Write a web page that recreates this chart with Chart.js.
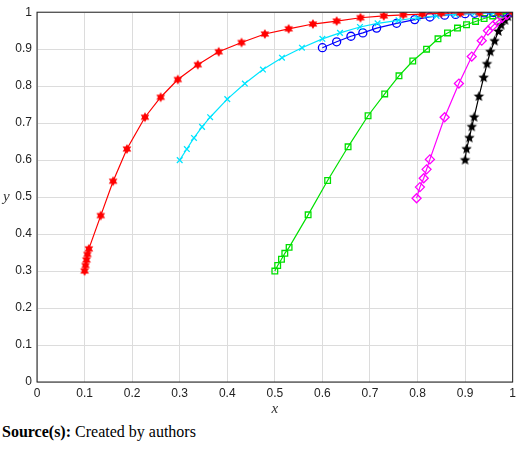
<!DOCTYPE html>
<html><head><meta charset="utf-8">
<script src="https://cdn.jsdelivr.net/npm/chart.js@4.4.0/dist/chart.umd.min.js"></script>
<style>
body { margin:0; background:#fff; }
#wrap { position:relative; width:520px; height:420px; }
#cap { font-family:"Liberation Serif", serif; font-size:16px; margin:3px 0 0 2px; }
</style></head><body>
<div id="wrap"><canvas id="c"></canvas></div>
<div id="cap"><b>Source(s):</b> Created by authors</div>
<script>
const redX = [0.1,0.102,0.104,0.106,0.109,0.134,0.16,0.189,0.227,0.26,0.296,0.338,0.382,0.43,0.479,0.529,0.58,0.63,0.68,0.729,0.77,0.81,0.85,0.89,0.93,0.97,1];
const redY = [0.3,0.315,0.33,0.345,0.36,0.45,0.543,0.63,0.716,0.77,0.818,0.858,0.893,0.918,0.941,0.955,0.968,0.976,0.985,0.99,0.993,0.995,0.997,0.998,0.999,1,1];
const cyanX = [0.3,0.315,0.33,0.347,0.364,0.4,0.437,0.475,0.515,0.557,0.6,0.637,0.679,0.716,0.76,0.8,0.84,0.88,0.92,0.96,1];
const cyanY = [0.6,0.63,0.66,0.69,0.716,0.765,0.807,0.845,0.877,0.904,0.928,0.944,0.96,0.97,0.978,0.985,0.99,0.994,0.997,0.999,1];
const blueX = [0.6,0.63,0.66,0.685,0.714,0.756,0.794,0.826,0.857,0.88,0.9,0.92,0.94,0.96,0.98,1];
const blueY = [0.904,0.92,0.935,0.944,0.957,0.97,0.98,0.987,0.992,0.994,0.996,0.997,0.998,0.999,1,1];
const greenX = [0.5,0.506,0.514,0.521,0.53,0.57,0.611,0.654,0.696,0.731,0.761,0.79,0.819,0.843,0.863,0.884,0.903,0.922,0.94,0.958,0.975,1];
const greenY = [0.3,0.315,0.332,0.348,0.364,0.452,0.545,0.636,0.72,0.779,0.828,0.868,0.9,0.928,0.944,0.957,0.966,0.975,0.983,0.99,0.995,1];
const magX = [0.798,0.805,0.813,0.819,0.826,0.857,0.887,0.914,0.935,0.948,0.958,0.968,0.978,0.988,1];
const magY = [0.497,0.527,0.551,0.575,0.602,0.716,0.807,0.88,0.923,0.95,0.963,0.975,0.985,0.993,1];
const blackX = [0.9,0.903,0.909,0.914,0.919,0.929,0.939,0.946,0.953,0.962,0.97,0.976,0.984,0.99,0.995,1];
const blackY = [0.6,0.63,0.66,0.69,0.716,0.772,0.823,0.86,0.893,0.922,0.948,0.965,0.978,0.988,0.995,1];
const yTicks = [0,0.1,0.2,0.3,0.4,0.5,0.6,0.7,0.8,0.9,1];

function starImg(n, color, r, inner) {
  const c = document.createElement('canvas');
  c.width = c.height = 2*r+2;
  const g = c.getContext('2d');
  g.fillStyle = color;
  g.beginPath();
  for (let i = 0; i < 2*n; i++) {
    const a = -Math.PI/2 + i*Math.PI/n;
    const rr = i % 2 ? r*inner : r;
    g.lineTo(r+1 + rr*Math.cos(a), r+1 + rr*Math.sin(a));
  }
  g.closePath(); g.fill();
  return c;
}

const pts = (xs, ys) => xs.map((x, i) => ({x, y: ys[i]}));
function ds(xs, ys, color, style, radius, fill) {
  return { data: pts(xs, ys), showLine: true, borderColor: color, borderWidth: 1.2,
    pointStyle: style, pointRadius: radius, pointBorderColor: color, pointBorderWidth: 1.3,
    pointBackgroundColor: fill ? color : 'rgba(0,0,0,0)' };
}

// frame box + upright y label (MATLAB style)
const boxPlugin = { id: 'box', afterDraw(ch) {
  const a = ch.chartArea, g = ch.ctx;
  g.save(); g.strokeStyle = '#222'; g.lineWidth = 1;
  g.strokeRect(a.left, a.top, a.right - a.left, a.bottom - a.top);
  g.fillStyle = '#333'; g.font = 'italic 15px "Liberation Serif"';
  g.textAlign = 'left'; g.textBaseline = 'middle';
  g.fillText('y', 3, (a.top + a.bottom) / 2);
  g.restore();
}};

new Chart(document.getElementById('c'), {
  type: 'scatter',
  data: { datasets: [
    ds(redX, redY, '#ff0000', starImg(6, '#ff0000', 5, 0.55), 5, true),
    ds(cyanX, cyanY, '#00e5ff', 'crossRot', 4, false),
    ds(blueX, blueY, '#0000ff', 'circle', 4, false),
    ds(greenX, greenY, '#00e000', 'rect', 4, false),
    ds(magX, magY, '#ff00ff', 'rectRot', 4.5, false),
    ds(blackX, blackY, '#000000', starImg(5, '#000', 5.5, 0.45), 5, true)
  ]},
  options: {
    responsive: true, maintainAspectRatio: false, animation: false,
    layout: { padding: { top: 8, right: 7, left: 0, bottom: 0 } },
    plugins: { legend: { display: false }, tooltip: { enabled: false } },
    scales: {
      x: { type: 'linear', min: 0, max: 1,
        afterBuildTicks: s => { s.ticks = yTicks.map(v => ({value: v})); },
        ticks: { color: '#222', font: { family: 'Arial', size: 12 }, padding: 4,
          callback: v => String(+v.toFixed(1)) },
        grid: { color: '#dcdcdc', drawTicks: false },
        title: { display: true, text: 'x', color: '#333', padding: 2,
          font: { family: 'Liberation Serif', style: 'italic', size: 15 } },
        afterFit: s => { s.height = 38; } },
      y: { min: 0, max: 1,
        afterBuildTicks: s => { s.ticks = yTicks.map(v => ({value: v})); },
        ticks: { color: '#222', font: { family: 'Arial', size: 12 }, padding: 5,
          callback: v => String(+v.toFixed(1)) },
        grid: { color: '#dcdcdc', drawTicks: false },
        afterFit: s => { s.width = 37; } }
    }
  },
  plugins: [boxPlugin]
});
</script>
</body></html>
